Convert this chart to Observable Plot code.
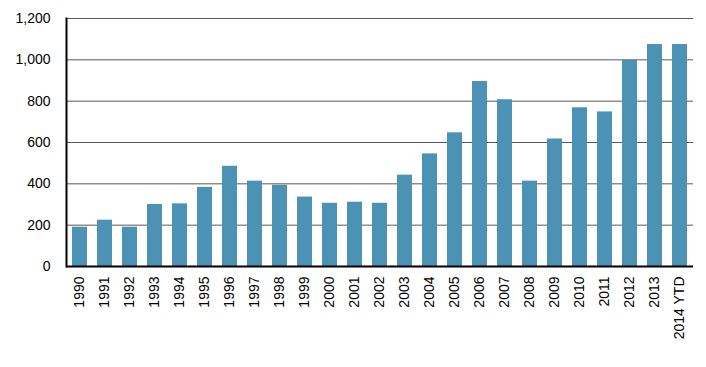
<!DOCTYPE html>
<html>
<head>
<meta charset="utf-8">
<script src="https://cdn.jsdelivr.net/npm/d3@7"></script>
<script src="https://cdn.jsdelivr.net/npm/@observablehq/plot@0.6"></script>
<style>
  html, body { margin: 0; padding: 0; background: #fff; }
  #chart svg { display: block; }
</style>
</head>
<body>
<div id="chart"></div>
<script>
const years = ["1990","1991","1992","1993","1994","1995","1996","1997","1998","1999","2000","2001","2002","2003","2004","2005","2006","2007","2008","2009","2010","2011","2012","2013","2014 YTD"];
const values = [190,224,190,300,303,383,485,413,393,336,306,311,306,442,545,647,895,807,413,617,768,748,997,1074,1074];
const yTicks = [0,200,400,600,800,1000,1200];

const data = years.map((year, i) => ({year, value: values[i]}));

const chart = Plot.plot({
  width: 706,
  height: 367,
  marginLeft: 66,
  marginRight: 13,
  marginTop: 18,
  marginBottom: 101,
  style: {fontFamily: "'Liberation Sans', Arial, sans-serif", fontSize: "14px", color: "#000", background: "#fff"},
  x: {domain: years, paddingInner: 0.4, paddingOuter: 0.2, label: null, tickSize: 0, tickRotate: -90, tickPadding: 10},
  y: {domain: [0, 1200], ticks: yTicks, tickFormat: d3.format(",d"), label: null, tickSize: 0, tickPadding: 16},
  marks: [
    Plot.ruleY(yTicks.filter(d => d > 0), {stroke: "#595959", strokeWidth: 1, strokeOpacity: 1}),
    Plot.barY(data, {x: "year", y: "value", fill: "#4c92b5"}),
    Plot.ruleY([0], {stroke: "#000", strokeWidth: 2}),
    Plot.frame({anchor: "left", stroke: "#000", strokeWidth: 2})
  ]
});
document.getElementById("chart").appendChild(chart);
</script>
</body>
</html>
